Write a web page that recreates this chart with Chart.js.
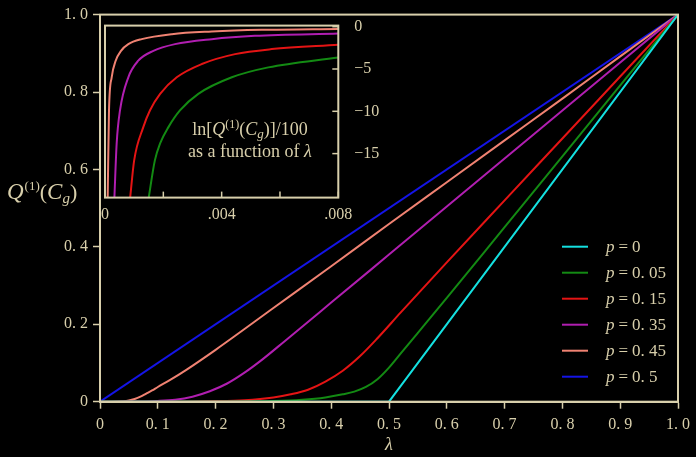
<!DOCTYPE html>
<html>
<head>
<meta charset="utf-8">
<script src="https://cdn.jsdelivr.net/npm/chart.js@4.4.0/dist/chart.umd.min.js"></script>
<style>
  html, body { margin: 0; padding: 0; background: #000; }
  #wrap { position: relative; width: 696px; height: 457px; }
  #main { position: absolute; left: 0; top: 0; }
  #inset { position: absolute; left: 95px; top: 7.7px; }
</style>
</head>
<body>
<div id="wrap">
  <canvas id="main" width="696" height="457"></canvas>
  <canvas id="inset" width="300" height="215"></canvas>
</div>
<script>
// ---- data ----
const pLabels = ['0', '0. 05', '0. 15', '0. 35', '0. 45', '0. 5'];
const lineColors = ['#14e0e0', '#138a13', '#e41414', '#b01eb0', '#f08272', '#1414e6'];

const lamP0 = [0, 0.5, 1];
const qP0 = [0, 0, 1];

const lamP05 = [0, 0.2, 0.3, 0.35, 0.39, 0.42, 0.44, 0.46, 0.48, 0.5, 0.52, 0.55, 0.6, 0.7, 0.8, 0.9, 1];
const qP05 = [0, 0, 0.0015, 0.005, 0.011, 0.019, 0.026, 0.038, 0.058, 0.088, 0.124, 0.178, 0.268, 0.451, 0.634, 0.817, 1];

const lamP15 = [0, 0.1, 0.2, 0.25, 0.3, 0.33, 0.36, 0.39, 0.42, 0.45, 0.48, 0.52, 0.6, 0.7, 0.8, 0.9, 1];
const qP15 = [0, 0, 0.0015, 0.004, 0.011, 0.019, 0.031, 0.052, 0.08, 0.118, 0.164, 0.23, 0.36, 0.52, 0.68, 0.84, 1];

const lamP35 = [0, 0.05, 0.1, 0.13, 0.16, 0.19, 0.22, 0.25, 0.28, 0.32, 0.4, 0.5, 0.6, 0.7, 0.8, 0.9, 1];
const qP35 = [0, 0.0003, 0.002, 0.005, 0.013, 0.027, 0.047, 0.075, 0.108, 0.157, 0.256, 0.38, 0.504, 0.628, 0.752, 0.876, 1];

const lamP45 = [0, 0.02, 0.04, 0.05, 0.06, 0.07, 0.08, 0.09, 0.1, 0.12, 0.15, 0.2, 0.3, 0.4, 0.5, 0.6, 0.7, 0.8, 0.9, 1];
const qP45 = [0, 0, 0.001, 0.003, 0.007, 0.013, 0.021, 0.029, 0.038, 0.055, 0.083, 0.134, 0.242, 0.35, 0.459, 0.567, 0.675, 0.783, 0.892, 1];

const lamP5 = [0, 1];
const qP5 = [0, 1];

// inset: ln[Q]/100 for small lambda
const insLam05 = [0.00149, 0.00171, 0.00189, 0.00217, 0.00257, 0.0032, 0.00435, 0.0056, 0.008];
const insVal05 = [-20.4, -15.8, -13.8, -11.9, -9.9, -7.94, -5.98, -4.81, -3.63];
const insLam15 = [0.000857, 0.001, 0.00131, 0.00154, 0.00189, 0.00246, 0.00332, 0.00446, 0.00572, 0.008];
const insVal15 = [-20.4, -15.8, -11.9, -9.9, -7.94, -5.98, -4.41, -3.24, -2.65, -2.14];
const insLam35 = [0.00032, 0.0004, 0.000514, 0.0008, 0.00114, 0.00166, 0.0024, 0.00366, 0.00514, 0.008];
const insVal35 = [-20.4, -13.8, -9.9, -5.98, -4.02, -2.85, -2.06, -1.47, -1.08, -0.81];
const insLam45 = [0.0000915, 0.000137, 0.000229, 0.000366, 0.000549, 0.0008, 0.00126, 0.00229, 0.00366, 0.00537, 0.008];
const insVal45 = [-20.4, -9.9, -5.98, -4.02, -2.85, -2.06, -1.47, -0.88, -0.57, -0.37, -0.26];

const xTicks = [0, 0.1, 0.2, 0.3, 0.4, 0.5, 0.6, 0.7, 0.8, 0.9, 1];
const xTickLabels = ['0', '0. 1', '0. 2', '0. 3', '0. 4', '0. 5', '0. 6', '0. 7', '0. 8', '0. 9', '1. 0'];
const yTicks = [0, 0.2, 0.4, 0.6, 0.8, 1];
const yTickLabels = ['0', '0. 2', '0. 4', '0. 6', '0. 8', '1. 0'];
const insXTicks = [0, 0.002, 0.004, 0.006, 0.008];
const insXTickLabels = ['0', '', '.004', '', '.008'];
const insYTicks = [-15, -10, -5, 0];
const insYTickLabels = ['\u221215', '\u221210', '\u22125', '0'];

// ---- styling ----
const ink = '#d8cfab';
const serif = '"Liberation Serif", "DejaVu Serif", serif';

const toPoints = function (xs, ys) {
    return xs.map((x, i) => ({ x: x, y: ys[i] }));
};

// draw a row of text pieces (font / vertical shift) starting or centred at x
const drawPieces = function (ctx, pieces, x, y, center) {
    let total = 0;
    pieces.forEach(function (p) {
        ctx.font = p.font;
        total += ctx.measureText(p.t).width + (p.gap || 0);
    });
    let cx = center ? x - total / 2 : x;
    ctx.textAlign = 'left';
    ctx.textBaseline = 'alphabetic';
    pieces.forEach(function (p) {
        ctx.font = p.font;
        ctx.fillText(p.t, cx, y + (p.dy || 0));
        cx += ctx.measureText(p.t).width + (p.gap || 0);
    });
};

const mainSeries = [
    [lamP0, qP0], [lamP05, qP05], [lamP15, qP15], [lamP35, qP35], [lamP45, qP45], [lamP5, qP5]
];

const mainDecor = {
    id: 'mainDecor',
    afterDraw: function (chart) {
        const ctx = chart.ctx;
        const a = chart.chartArea;
        ctx.save();
        ctx.strokeStyle = ink;
        ctx.lineWidth = 2;
        ctx.strokeRect(a.left, a.top, a.right - a.left, a.bottom - a.top);

        ctx.fillStyle = ink;
        // x title
        ctx.font = 'italic 18px ' + serif;
        ctx.textAlign = 'center';
        ctx.fillText('\u03bb', (a.left + a.right) / 2, 450);

        // y title
        const big = 'italic 23px ' + serif;
        const up = '22px ' + serif;
        const small = '13px ' + serif;
        const smallIt = 'italic 15px ' + serif;
        drawPieces(ctx, [
            { t: 'Q', font: big, gap: 1 },
            { t: '(1)', font: small, dy: -9 },
            { t: '(', font: up },
            { t: 'C', font: big },
            { t: 'g', font: smallIt, dy: 4 },
            { t: ')', font: up }
        ], 7, 199, false);

        // legend
        chart.data.datasets.forEach(function (ds, i) {
            const ly = 246.7 + 26 * i;
            ctx.strokeStyle = ds.borderColor;
            ctx.lineWidth = 2;
            ctx.beginPath();
            ctx.moveTo(562, ly);
            ctx.lineTo(588, ly);
            ctx.stroke();
            ctx.fillStyle = ink;
            drawPieces(ctx, [
                { t: 'p', font: 'italic 17px ' + serif, gap: 4 },
                { t: '=', font: '17px ' + serif, gap: 4 },
                { t: pLabels[i], font: '17px ' + serif }
            ], 606, ly + 5.5, false);
        });
        ctx.restore();
    }
};

new Chart(document.getElementById('main'), {
    type: 'line',
    data: {
        datasets: mainSeries.map(function (s, i) {
            return {
                label: 'p = ' + pLabels[i],
                data: toPoints(s[0], s[1]),
                borderColor: lineColors[i],
                borderWidth: 2,
                pointRadius: 0,
                tension: 0,
                cubicInterpolationMode: s[0].length > 3 ? 'monotone' : 'default',
                fill: false
            };
        })
    },
    options: {
        responsive: false,
        animation: false,
        layout: { padding: { top: 14, right: 14.5, left: 0, bottom: 0 } },
        plugins: { legend: { display: false }, tooltip: { enabled: false } },
        scales: {
            x: {
                type: 'linear', min: 0, max: 1,
                afterFit: function (s) { s.height = 55.3; },
                afterBuildTicks: function (s) { s.ticks = xTicks.map(v => ({ value: v })); },
                ticks: {
                    callback: (v, i) => xTickLabels[i],
                    color: ink, font: { family: serif, size: 16 },
                    padding: 6, maxRotation: 0, autoSkip: false
                },
                grid: { drawOnChartArea: false, tickLength: 7, tickColor: ink, tickWidth: 1.5 },
                border: { color: ink, width: 2 }
            },
            y: {
                min: 0, max: 1,
                afterFit: function (s) { s.width = 100; },
                afterBuildTicks: function (s) { s.ticks = yTicks.map(v => ({ value: v })); },
                ticks: {
                    callback: (v, i) => yTickLabels[i],
                    color: ink, font: { family: serif, size: 16 },
                    padding: 5, autoSkip: false
                },
                grid: { drawOnChartArea: false, tickLength: 7, tickColor: ink, tickWidth: 1.5 },
                border: { color: ink, width: 2 }
            }
        }
    },
    plugins: [mainDecor]
});

// ---- inset ----
const insetSeries = [
    [insLam05, insVal05, 1], [insLam15, insVal15, 2], [insLam35, insVal35, 3], [insLam45, insVal45, 4]
];

const insetDecor = {
    id: 'insetDecor',
    beforeDatasetsDraw: function (chart) {
        const ctx = chart.ctx;
        const a = chart.chartArea;
        ctx.save();
        ctx.fillStyle = '#000';
        ctx.fillRect(a.left, a.top, a.right - a.left, a.bottom - a.top);
        ctx.restore();
    },
    afterDraw: function (chart) {
        const ctx = chart.ctx;
        const a = chart.chartArea;
        const xs = chart.scales.x;
        const ys = chart.scales.y;
        ctx.save();
        ctx.strokeStyle = ink;
        ctx.lineWidth = 1.5;
        insXTicks.forEach(function (v) {
            const px = xs.getPixelForValue(v);
            ctx.beginPath();
            ctx.moveTo(px, a.bottom);
            ctx.lineTo(px, a.bottom - 6);
            ctx.stroke();
        });
        insYTicks.forEach(function (v) {
            const py = ys.getPixelForValue(v);
            ctx.beginPath();
            ctx.moveTo(a.right, py);
            ctx.lineTo(a.right - 6, py);
            ctx.stroke();
        });
        ctx.lineWidth = 2;
        ctx.strokeRect(a.left, a.top, a.right - a.left, a.bottom - a.top);

        ctx.fillStyle = ink;
        const cx = 155;
        const ty = a.top + 109.5;
        drawPieces(ctx, [
            { t: 'ln[', font: '18px ' + serif },
            { t: 'Q', font: 'italic 18px ' + serif },
            { t: '(1)', font: '12px ' + serif, dy: -7 },
            { t: '(', font: '18px ' + serif },
            { t: 'C', font: 'italic 18px ' + serif },
            { t: 'g', font: 'italic 13px ' + serif, dy: 3 },
            { t: ')]/100', font: '18px ' + serif }
        ], cx, ty, true);
        drawPieces(ctx, [
            { t: 'as a function of ', font: '18px ' + serif },
            { t: '\u03bb', font: 'italic 18px ' + serif }
        ], cx, ty + 22, true);
        ctx.restore();
    }
};

new Chart(document.getElementById('inset'), {
    type: 'line',
    data: {
        datasets: insetSeries.map(function (s) {
            return {
                data: toPoints(s[0], s[1]),
                borderColor: lineColors[s[2]],
                borderWidth: 2,
                pointRadius: 0,
                cubicInterpolationMode: 'monotone',
                fill: false
            };
        })
    },
    options: {
        responsive: false,
        animation: false,
        layout: { autoPadding: false, padding: { top: 10.7, left: 10, right: 0, bottom: 0 } },
        plugins: { legend: { display: false }, tooltip: { enabled: false } },
        scales: {
            x: {
                type: 'linear', min: 0, max: 0.008,
                afterFit: function (s) { s.height = 25.4; },
                afterBuildTicks: function (s) { s.ticks = insXTicks.map(v => ({ value: v })); },
                ticks: {
                    callback: (v, i) => insXTickLabels[i],
                    color: ink, font: { family: serif, size: 16 },
                    padding: 0, maxRotation: 0, autoSkip: false
                },
                grid: { display: false },
                border: { display: false }
            },
            y: {
                position: 'right', min: -20.2, max: 0.13,
                afterFit: function (s) { s.width = 56.7; },
                afterBuildTicks: function (s) { s.ticks = insYTicks.map(v => ({ value: v })); },
                ticks: {
                    callback: (v, i) => insYTickLabels[i],
                    color: ink, font: { family: serif, size: 16 },
                    padding: 8, autoSkip: false
                },
                grid: { display: false },
                border: { display: false }
            }
        }
    },
    plugins: [insetDecor]
});
</script>
</body>
</html>
